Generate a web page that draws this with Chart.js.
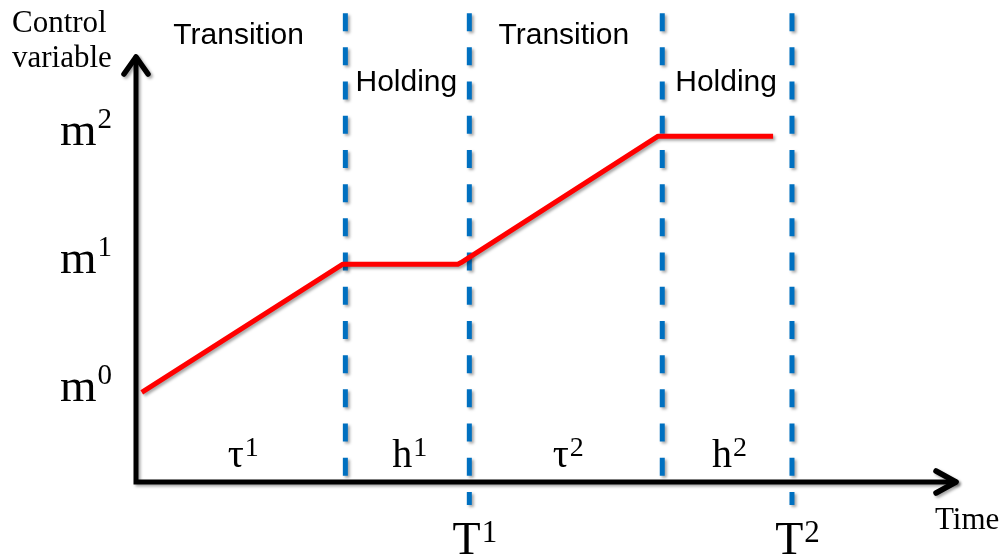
<!DOCTYPE html>
<html>
<head>
<meta charset="utf-8">
<script src="https://cdn.jsdelivr.net/npm/chart.js@4/dist/chart.umd.min.js"></script>
<style>
  html, body { margin: 0; padding: 0; background: #ffffff; }
  #wrap { width: 1005px; height: 558px; }
</style>
</head>
<body>
<div id="wrap"><canvas id="c" width="1005" height="558"></canvas></div>
<script>
// ---- data (arbitrary time / control units) ----
const controlTimes  = [0.7, 25.2, 39.2, 39.6, 63.6, 77.6];
const controlValues = [21, 51, 51, 51.4, 81, 81];
const phaseBounds   = [0, 25.5, 40.6, 64.1, 79.9];      // start, end τ1, T1, end τ2, T2
const levelValues   = [21, 51, 81];
const levelBase     = ['m', 'm', 'm'];
const levelSup      = ['0', '1', '2'];
const phaseTitles   = ['Transition', 'Holding', 'Transition', 'Holding'];
const durBase       = ['τ', 'h', 'τ', 'h'];
const durSup        = ['1', '1', '2', '2'];
const periodEnds    = [40.6, 79.9];
const periodBase    = ['T', 'T'];
const periodSup     = ['1', '2'];
const dashTop       = 109.8;
const dashBottomLong  = -5.4;
const dashBottomShort = 1.4;
const yAxisTitle    = ['Control', 'variable'];
const xAxisTitle    = 'Time';

const SERIF = '"Liberation Serif", "DejaVu Serif", serif';
const SANS  = '"Liberation Sans", Arial, sans-serif';

const datasets = [{
  label: 'Control variable',
  data: controlTimes.map((t, i) => ({ x: t, y: controlValues[i] })),
  borderColor: '#FF0000',
  borderWidth: 5,
  pointRadius: 0,
  tension: 0,
  clip: false,
  borderJoinStyle: 'round',
  shadow: true
}];
phaseBounds.slice(1).forEach((b, i) => {
  const isPeriodEnd = periodEnds.includes(b);
  datasets.push({
    label: 'bound' + i,
    data: [{ x: b, y: dashTop }, { x: b, y: isPeriodEnd ? dashBottomLong : dashBottomShort }],
    borderColor: '#0070C0',
    borderWidth: 5,
    borderDash: [18, 16.2],
    borderCapStyle: 'butt',
    pointRadius: 0,
    clip: false,
    shadow: true
  });
});

function drawSup(ctx, base, sup, x, baseline, baseSize, supSize, rise, align) {
  ctx.font = baseSize + 'px ' + SERIF;
  const wb = ctx.measureText(base).width;
  ctx.font = supSize + 'px ' + SERIF;
  const ws = ctx.measureText(sup).width;
  let left = x;
  if (align === 'center') left = x - (wb + ws) / 2;
  ctx.textAlign = 'left';
  ctx.textBaseline = 'alphabetic';
  ctx.fillStyle = '#000';
  ctx.font = baseSize + 'px ' + SERIF;
  ctx.fillText(base, left, baseline);
  ctx.font = supSize + 'px ' + SERIF;
  ctx.fillText(sup, left + wb + 1, baseline - rise);
}

const shadowPlugin = {
  id: 'shadow',
  beforeDatasetDraw(chart, args) {
    const ctx = chart.ctx;
    ctx.save();
    if (chart.data.datasets[args.index].shadow) {
      ctx.shadowColor = 'rgba(0,0,0,0.35)';
      ctx.shadowBlur = 3;
      ctx.shadowOffsetX = 2;
      ctx.shadowOffsetY = 2;
    }
  },
  afterDatasetDraw(chart) {
    chart.ctx.restore();
  }
};

const decorPlugin = {
  id: 'decor',
  beforeDatasetsDraw(chart) {
    const ctx = chart.ctx;
    const xs = chart.scales.x, ys = chart.scales.y;
    const x0 = xs.getPixelForValue(0), y0 = ys.getPixelForValue(0);
    const xTop = ys.getPixelForValue(100) + 2;
    const xEnd = xs.getPixelForValue(100) - 1;
    ctx.save();
    ctx.shadowColor = 'rgba(0,0,0,0.35)';
    ctx.shadowBlur = 3;
    ctx.shadowOffsetX = 2;
    ctx.shadowOffsetY = 2;
    ctx.strokeStyle = '#000';
    ctx.lineWidth = 5;
    ctx.lineJoin = 'miter';
    ctx.lineCap = 'round';
    ctx.beginPath();
    ctx.moveTo(x0, xTop);
    ctx.lineTo(x0, y0);
    ctx.lineTo(xEnd, y0);
    ctx.stroke();
    // arrowheads
    ctx.lineJoin = 'round';
    ctx.lineWidth = 5.5;
    ctx.beginPath();
    ctx.moveTo(x0 - 12, xTop + 17);
    ctx.lineTo(x0, xTop);
    ctx.lineTo(x0 + 12, xTop + 17);
    ctx.stroke();
    ctx.beginPath();
    ctx.moveTo(xEnd - 20, y0 - 11);
    ctx.lineTo(xEnd, y0);
    ctx.lineTo(xEnd - 20, y0 + 11);
    ctx.stroke();
    ctx.restore();
  },
  afterDraw(chart) {
    const ctx = chart.ctx;
    const xs = chart.scales.x, ys = chart.scales.y;
    ctx.save();
    // y level labels
    levelValues.forEach((v, i) => {
      const py = ys.getPixelForValue(v);
      drawSup(ctx, levelBase[i], levelSup[i], 60, py + 9, 47, 29, 17, 'left');
    });
    // phase titles and durations
    for (let i = 0; i < 4; i++) {
      const mid = (xs.getPixelForValue(phaseBounds[i]) + xs.getPixelForValue(phaseBounds[i + 1])) / 2;
      ctx.font = '30px ' + SANS;
      ctx.fillStyle = '#000';
      ctx.textAlign = 'center';
      ctx.textBaseline = 'alphabetic';
      const isHold = phaseTitles[i] === 'Holding';
      ctx.fillText(phaseTitles[i], mid - (isHold ? 1 : 2), isHold ? 91 : 44);
      drawSup(ctx, durBase[i], durSup[i], mid + 2, ys.getPixelForValue(0) - 15, 40, 28, 11, 'center');
    }
    // period end labels
    periodEnds.forEach((t, i) => {
      const px = xs.getPixelForValue(t);
      drawSup(ctx, periodBase[i], periodSup[i], px + 5, 554, 46, 31, 12, 'center');
    });
    // axis titles
    ctx.fillStyle = '#000';
    ctx.textAlign = 'left';
    ctx.textBaseline = 'alphabetic';
    ctx.font = '31px ' + SERIF;
    ctx.fillText(yAxisTitle[0], 12, 32);
    ctx.fillText(yAxisTitle[1], 12, 67);
    ctx.font = '31px ' + SERIF;
    ctx.fillText(xAxisTitle, 935, 529);
    ctx.restore();
  }
};

new Chart(document.getElementById('c'), {
  type: 'line',
  data: { datasets },
  options: {
    responsive: false,
    animation: false,
    layout: { padding: { left: 136, right: 48, top: 55, bottom: 76 } },
    plugins: { legend: { display: false }, tooltip: { enabled: false } },
    scales: {
      x: { type: 'linear', min: 0, max: 100, display: false },
      y: { type: 'linear', min: 0, max: 100, display: false }
    }
  },
  plugins: [shadowPlugin, decorPlugin]
});
</script>
</body>
</html>
